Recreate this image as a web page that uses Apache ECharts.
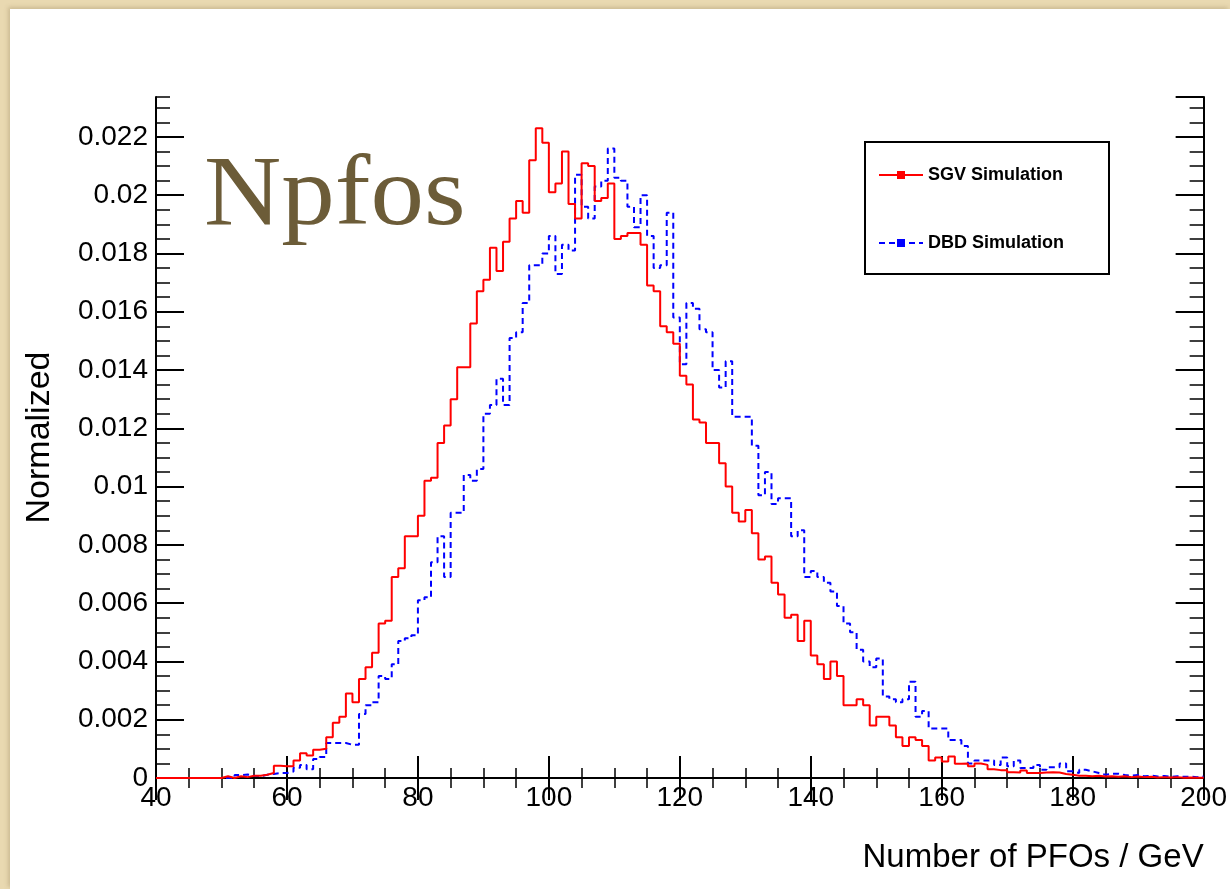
<!DOCTYPE html>
<html>
<head>
<meta charset="utf-8">
<script src="https://cdn.jsdelivr.net/npm/echarts@6/dist/echarts.min.js"></script>
<style>
  html, body { margin: 0; padding: 0; }
  body { width: 1230px; height: 889px; background: #e9d9b1; position: relative; overflow: hidden; }
  #panel { position: absolute; left: 10px; top: 9px; right: 0; bottom: 0; background: #fff;
           box-shadow: -2px -2px 4px rgba(120, 100, 60, 0.25); }
  #chart { position: absolute; left: 0; top: 0; width: 1230px; height: 889px; }
</style>
</head>
<body>
<div id="panel"></div>
<div id="chart"></div>
<script>
// histogram binning: 160 bins of width 1, from 40 to 200
const binLow = 40;
const binWidth = 1;
const xTicks = [40, 60, 80, 100, 120, 140, 160, 180, 200];

// SGV Simulation, bins 40..199
const sgv = [
  0, 0, 0, 0, 0, 0, 0, 0, 0, 0,
  0.00006, 0, 0.00006, 0.00003, 0.00008, 0.00008, 0.00011, 0.00017, 0.00042, 0.0004,
  0.0004, 0.0006, 0.00085, 0.00077, 0.00097, 0.001, 0.0014, 0.0019, 0.0021, 0.0029,
  0.0026, 0.0034, 0.0038, 0.0043, 0.0053, 0.0054, 0.0069, 0.0072, 0.0083, 0.0083,
  0.009, 0.0102, 0.0103, 0.0115, 0.0121, 0.013, 0.0141, 0.0141, 0.0156, 0.0167,
  0.0171, 0.0182, 0.0174, 0.0184, 0.0192, 0.0198, 0.0194, 0.0212, 0.0223, 0.0218,
  0.0201, 0.0204, 0.0215, 0.0197, 0.0192, 0.0211, 0.021, 0.0198, 0.0199, 0.0204,
  0.0185, 0.0186, 0.0187, 0.0187, 0.0183, 0.0169, 0.0167, 0.0155, 0.0153, 0.0149,
  0.0138, 0.0135, 0.0123, 0.0122, 0.0115, 0.0115, 0.0108, 0.01, 0.0091, 0.0088,
  0.0092, 0.0084, 0.0075, 0.0076, 0.0067, 0.0063, 0.0055, 0.0056, 0.0047, 0.0054,
  0.0042, 0.0039, 0.0034, 0.004, 0.0035, 0.0025, 0.0025, 0.0027, 0.0025, 0.0018,
  0.0021, 0.0021, 0.0018, 0.0014, 0.0011, 0.0014, 0.0013, 0.0011, 0.0006, 0.0007,
  0.00057, 0.00074, 0.00049, 0.0005, 0.0004, 0.0005, 0.00045, 0.0003, 0.00027, 0.00027,
  0.0002, 0.00019, 0.00026, 0.00017, 0.00017, 0.00019, 0.0002, 0.00019, 0.00014, 0.00011,
  0.00008, 0.00008, 0.00006, 0.00008, 0.00005, 0.00006, 0.00004, 0.00006, 0.00003, 0.00005,
  0.00003, 0.00004, 0.00002, 0.00003, 0.00002, 0.00003, 0.00001, 0.00002, 0.00001, 0.00001
];

// DBD Simulation, bins 40..199
const dbd = [
  0, 0, 0, 0, 0, 0, 0, 0, 0, 0,
  0, 0, 0.0001, 0.00012, 0.00008, 0.00006, 0.00011, 0.00014, 0.00017, 0.00017,
  0.00022, 0.00035, 0.00045, 0.0003, 0.00065, 0.00072, 0.0012, 0.0012, 0.0012, 0.00114,
  0.00114, 0.0022, 0.0025, 0.0026, 0.0035, 0.0034, 0.0039, 0.0047, 0.0048, 0.0049,
  0.0061, 0.0062, 0.0074, 0.0083, 0.0069, 0.0091, 0.0091, 0.0104, 0.0102, 0.0106,
  0.0125, 0.0128, 0.0137, 0.0128, 0.0151, 0.0153, 0.0163, 0.0176, 0.0176, 0.018,
  0.0186, 0.0173, 0.0183, 0.0181, 0.0207, 0.0196, 0.0192, 0.0203, 0.0205, 0.0216,
  0.0206, 0.0205, 0.0196, 0.0189, 0.02, 0.0186, 0.0175, 0.0176, 0.0194, 0.0158,
  0.0142, 0.0163, 0.0161, 0.0154, 0.0153, 0.014, 0.0134, 0.0143, 0.0124, 0.0124,
  0.0124, 0.0114, 0.0097, 0.0105, 0.0094, 0.0096, 0.0096, 0.0083, 0.0085, 0.0069,
  0.0071, 0.0069, 0.0067, 0.0064, 0.0059, 0.0053, 0.005, 0.0044, 0.004, 0.0038,
  0.0041, 0.0028, 0.0027, 0.0026, 0.0027, 0.0033, 0.0021, 0.0023, 0.0017, 0.0017,
  0.0017, 0.0013, 0.0013, 0.0011, 0.0005, 0.0006, 0.0006, 0.0006, 0.00045, 0.0007,
  0.0004, 0.0006, 0.00034, 0.00034, 0.00045, 0.00028, 0.00037, 0.00037, 0.0005, 0.00023,
  0.00017, 0.00028, 0.00023, 0.00017, 0.00011, 0.00015, 0.00015, 0.0001, 0.00008, 0.0001,
  0.00006, 0.00008, 0.00005, 0.00007, 0.00004, 0.00006, 0.00004, 0.00005, 0.00003, 0.00005
];

const seriesNames = ['SGV Simulation', 'DBD Simulation'];
const titleText = 'Npfos';

// bin lower edges + closing point at the upper edge of the last bin
function toSteps(vals) {
  const pts = vals.map((v, i) => [binLow + i * binWidth, v]);
  pts.push([binLow + vals.length * binWidth, vals[vals.length - 1]]);
  return pts;
}

const font = 'Liberation Sans, Arial, Helvetica, sans-serif';
const yMax = 0.02337;
const black = '#000';

const chart = echarts.init(document.getElementById('chart'), null, { renderer: 'canvas' });

const tickAxis = (extra) => Object.assign({
  type: 'value',
  axisLine: { show: true, lineStyle: { color: black, width: 2 } },
  splitLine: { show: false },
  axisLabel: { show: false }
}, extra);

chart.setOption({
  backgroundColor: 'transparent',
  animation: false,
  grid: { left: 156, top: 97, width: 1051, height: 681 },
  legend: {
    data: seriesNames,
    orient: 'vertical',
    left: 873,
    top: 160,
    itemWidth: 44,
    itemHeight: 10,
    itemGap: 48,
    textStyle: { fontFamily: font, fontSize: 18, fontWeight: 'bold', color: black, lineHeight: 20 }
  },
  graphic: [
    {
      type: 'rect',
      z: 1,
      shape: { x: 865, y: 142, width: 244, height: 132 },
      style: { fill: '#fff', stroke: black, lineWidth: 2 }
    },
    {
      // big serif title, a little wider than Times to match the original face
      type: 'text',
      x: 204,
      y: 148,
      scaleX: 1.07,
      z: 5,
      style: {
        text: titleText,
        font: 'normal 100px "Liberation Serif", "Times New Roman", serif',
        fill: '#6c5c38',
        verticalAlign: 'top'
      }
    }
  ],
  xAxis: [
    tickAxis({
      position: 'bottom', min: xTicks[0], max: xTicks[xTicks.length - 1], interval: xTicks[1] - xTicks[0],
      axisTick: { inside: true, length: 22, lineStyle: { color: black, width: 2 } },
      minorTick: { show: true, splitNumber: 4, length: 10, lineStyle: { color: black, width: 1.5 } },
      axisLabel: { show: true, fontFamily: font, fontSize: 28, color: black, margin: 6 },
      name: 'Number of PFOs / GeV',
      nameLocation: 'end',
      nameGap: 0,
      nameTextStyle: { fontFamily: font, fontSize: 33, color: black, align: 'right', verticalAlign: 'top', padding: [63, 0, 0, 0] }
    }),
    tickAxis({
      position: 'top', min: xTicks[0], max: xTicks[xTicks.length - 1], interval: xTicks[1] - xTicks[0],
      axisTick: { inside: true, length: 22, lineStyle: { color: black, width: 2 } },
      minorTick: { show: true, splitNumber: 4, length: 10, lineStyle: { color: black, width: 1.5 } }
    })
  ],
  yAxis: [
    tickAxis({
      position: 'left', min: 0, max: yMax, interval: 0.002,
      axisTick: { inside: true, length: 28, lineStyle: { color: black, width: 2 } },
      axisLabel: { show: true, showMaxLabel: false, fontFamily: font, fontSize: 28, color: black, margin: 8 },
      name: 'Normalized',
      nameLocation: 'middle',
      nameGap: 99,
      nameTextStyle: { fontFamily: font, fontSize: 34, color: black }
    }),
    tickAxis({
      position: 'left', min: 0, max: yMax, interval: 0.0005, axisLine: { show: false },
      axisTick: { inside: true, length: 14, lineStyle: { color: black, width: 1.5 } }
    }),
    tickAxis({
      position: 'right', min: 0, max: yMax, interval: 0.002,
      axisTick: { inside: true, length: 28, lineStyle: { color: black, width: 2 } }
    }),
    tickAxis({
      position: 'right', min: 0, max: yMax, interval: 0.0005, axisLine: { show: false },
      axisTick: { inside: true, length: 14, lineStyle: { color: black, width: 1.5 } }
    })
  ],
  series: [
    {
      name: seriesNames[0],
      type: 'line',
      step: 'end',
      data: toSteps(sgv),
      symbol: 'rect',
      showSymbol: false,
      itemStyle: { color: '#ff0000' },
      lineStyle: { color: '#ff0000', width: 2 },
      z: 3
    },
    {
      name: seriesNames[1],
      type: 'line',
      step: 'end',
      data: toSteps(dbd),
      symbol: 'rect',
      showSymbol: false,
      itemStyle: { color: '#0000ff' },
      lineStyle: { color: '#0000ff', width: 2, type: [6, 4] },
      z: 2
    }
  ]
});
</script>
</body>
</html>
